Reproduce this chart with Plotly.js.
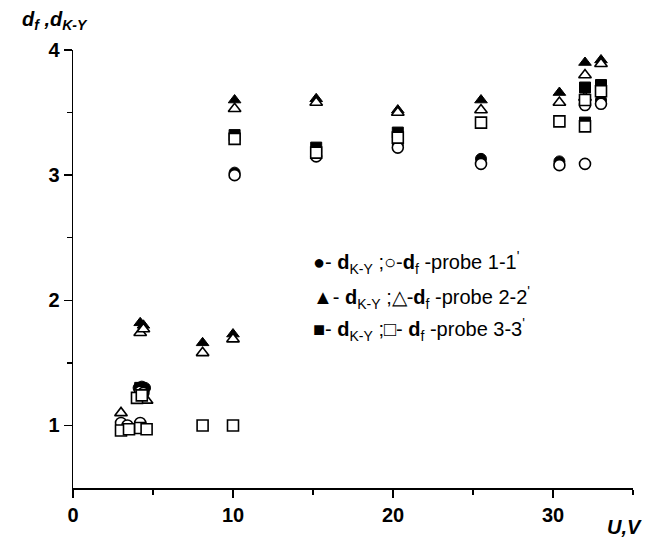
<!DOCTYPE html>
<html><head><meta charset="utf-8">
<script src="https://cdn.plot.ly/plotly-3.0.1.min.js"></script>
<style>html,body{margin:0;padding:0;background:#fff}#chart{width:646px;height:542px}</style>
</head><body><div id="chart"></div>
<script>
// Probe 1-1' : circles
const p1_dKY_U = [4.1, 4.3, 4.5, 10.1, 15.2, 20.3, 25.5, 30.4, 32.0, 33.0];
const p1_dKY   = [1.30, 1.31, 1.30, 3.02, 3.17, 3.24, 3.13, 3.11, 3.58, 3.60];
const p1_df_U  = [3.0, 3.4, 4.2, 4.2, 4.4, 10.1, 15.2, 20.3, 25.5, 30.4, 32.0, 32.0, 33.0];
const p1_df    = [1.02, 1.00, 1.02, 1.27, 1.26, 3.00, 3.15, 3.22, 3.09, 3.08, 3.56, 3.09, 3.57];
// Probe 2-2' : triangles
const p2_dKY_U = [4.2, 4.4, 8.1, 10.0, 10.1, 15.2, 20.3, 25.5, 30.4, 32.0, 33.0];
const p2_dKY   = [1.82, 1.80, 1.66, 1.73, 3.60, 3.61, 3.52, 3.60, 3.66, 3.90, 3.92];
const p2_df_U  = [3.0, 4.2, 4.4, 4.6, 8.1, 10.0, 10.1, 15.2, 20.3, 25.5, 30.4, 32.0, 32.0, 33.0];
const p2_df    = [1.10, 1.74, 1.77, 1.20, 1.58, 1.69, 3.53, 3.58, 3.50, 3.52, 3.58, 3.80, 3.62, 3.89];
// Probe 3-3' : squares
const p3_dKY_U = [4.2, 10.1, 15.2, 20.3, 32.0, 32.0, 33.0];
const p3_dKY   = [1.30, 3.32, 3.22, 3.34, 3.70, 3.42, 3.72];
const p3_df_U  = [3.0, 3.5, 4.2, 4.0, 4.3, 4.6, 8.1, 10.0, 10.1, 15.2, 20.3, 25.5, 30.4, 32.0, 32.0, 33.0];
const p3_df    = [0.96, 0.97, 0.98, 1.22, 1.24, 0.97, 1.00, 1.00, 3.29, 3.18, 3.30, 3.42, 3.43, 3.60, 3.39, 3.67];

const xTicks = [0, 10, 20, 30];
const yTicks = [1, 2, 3, 4];

const MS = 11;
function filled(x, y, sym) {
  return {x, y, type:'scatter', mode:'markers', showlegend:false, hoverinfo:'skip',
    marker:{symbol:sym, size:MS, color:'#000', line:{color:'#000', width:1}}};
}
function open(x, y, sym) {
  return {x, y, type:'scatter', mode:'markers', showlegend:false, hoverinfo:'skip',
    marker:{symbol:sym, size:MS, color:'#fff', line:{color:'#000', width:1.6}}};
}
const data = [
  filled(p1_dKY_U, p1_dKY, 'circle'),
  filled(p2_dKY_U, p2_dKY, 'triangle-up'),
  filled(p3_dKY_U, p3_dKY, 'square'),
  open(p1_df_U, p1_df, 'circle'),
  open(p2_df_U, p2_df, 'triangle-up'),
  open(p3_df_U, p3_df, 'square')
];

const tickFont = {family:'Liberation Sans Narrow, Arial Narrow, Liberation Sans, Arial', size:20, color:'#000', weight:'bold'};
const legFont = {family:'Liberation Sans, Arial', size:20, color:'#000'};

const layout = {
  width:646, height:542,
  margin:{l:73, r:13, t:50, b:54},
  paper_bgcolor:'#fff', plot_bgcolor:'#fff',
  xaxis:{range:[0,35], tickvals:xTicks, ticktext:xTicks.map(String), ticks:'outside', ticklen:8, tickwidth:1.5, tickcolor:'#000',
    minor:{tickvals:[5,15,25,35], ticks:'outside', ticklen:5, tickwidth:1.5, tickcolor:'#000'},
    showgrid:false, zeroline:false, showline:true, linecolor:'#000', linewidth:1.5, tickfont:tickFont, fixedrange:true},
  yaxis:{range:[0.5,4], tickvals:yTicks, ticktext:yTicks.map(String), ticks:'outside', ticklen:8, tickwidth:1.5, tickcolor:'#000',
    minor:{tickvals:[1.5,2.5,3.5], ticks:'outside', ticklen:5, tickwidth:1.5, tickcolor:'#000'},
    showgrid:false, zeroline:false, showline:true, linecolor:'#000', linewidth:1.5, tickfont:tickFont, fixedrange:true},
  annotations:[
    {xref:'paper', yref:'paper', x:-0.095, y:1.068, xanchor:'left', yanchor:'middle', showarrow:false,
     text:'<b><i>d</i></b><sub><b><i>f</i></b></sub><b><i> ,d</i></b><sub><b><i>K-Y</i></b></sub>',
     font:{family:'Liberation Sans, Arial', size:20, color:'#000'}},
    {xref:'paper', yref:'paper', x:1.02, y:-0.09, xanchor:'right', yanchor:'middle', showarrow:false,
     text:'<b><i>U,V</i></b>', font:{family:'Liberation Sans, Arial', size:20, color:'#000'}},
    {xref:'paper', yref:'paper', x:0.425, y:0.514, xanchor:'left', yanchor:'middle', showarrow:false,
     text:'●- <b>d</b><sub>K-Y</sub> ;○-<b>d</b><sub>f</sub> -probe 1-1<sup>\'</sup>', font:legFont},
    {xref:'paper', yref:'paper', x:0.425, y:0.434, xanchor:'left', yanchor:'middle', showarrow:false,
     text:'▲- <b>d</b><sub>K-Y</sub> ;△-<b>d</b><sub>f</sub> -probe 2-2<sup>\'</sup>', font:legFont},
    {xref:'paper', yref:'paper', x:0.425, y:0.361, xanchor:'left', yanchor:'middle', showarrow:false,
     text:'■- <b>d</b><sub>K-Y</sub> ;□- <b>d</b><sub>f</sub> -probe 3-3<sup>\'</sup>', font:legFont}
  ]
};
Plotly.newPlot('chart', data, layout, {displayModeBar:false, staticPlot:true});
</script></body></html>
